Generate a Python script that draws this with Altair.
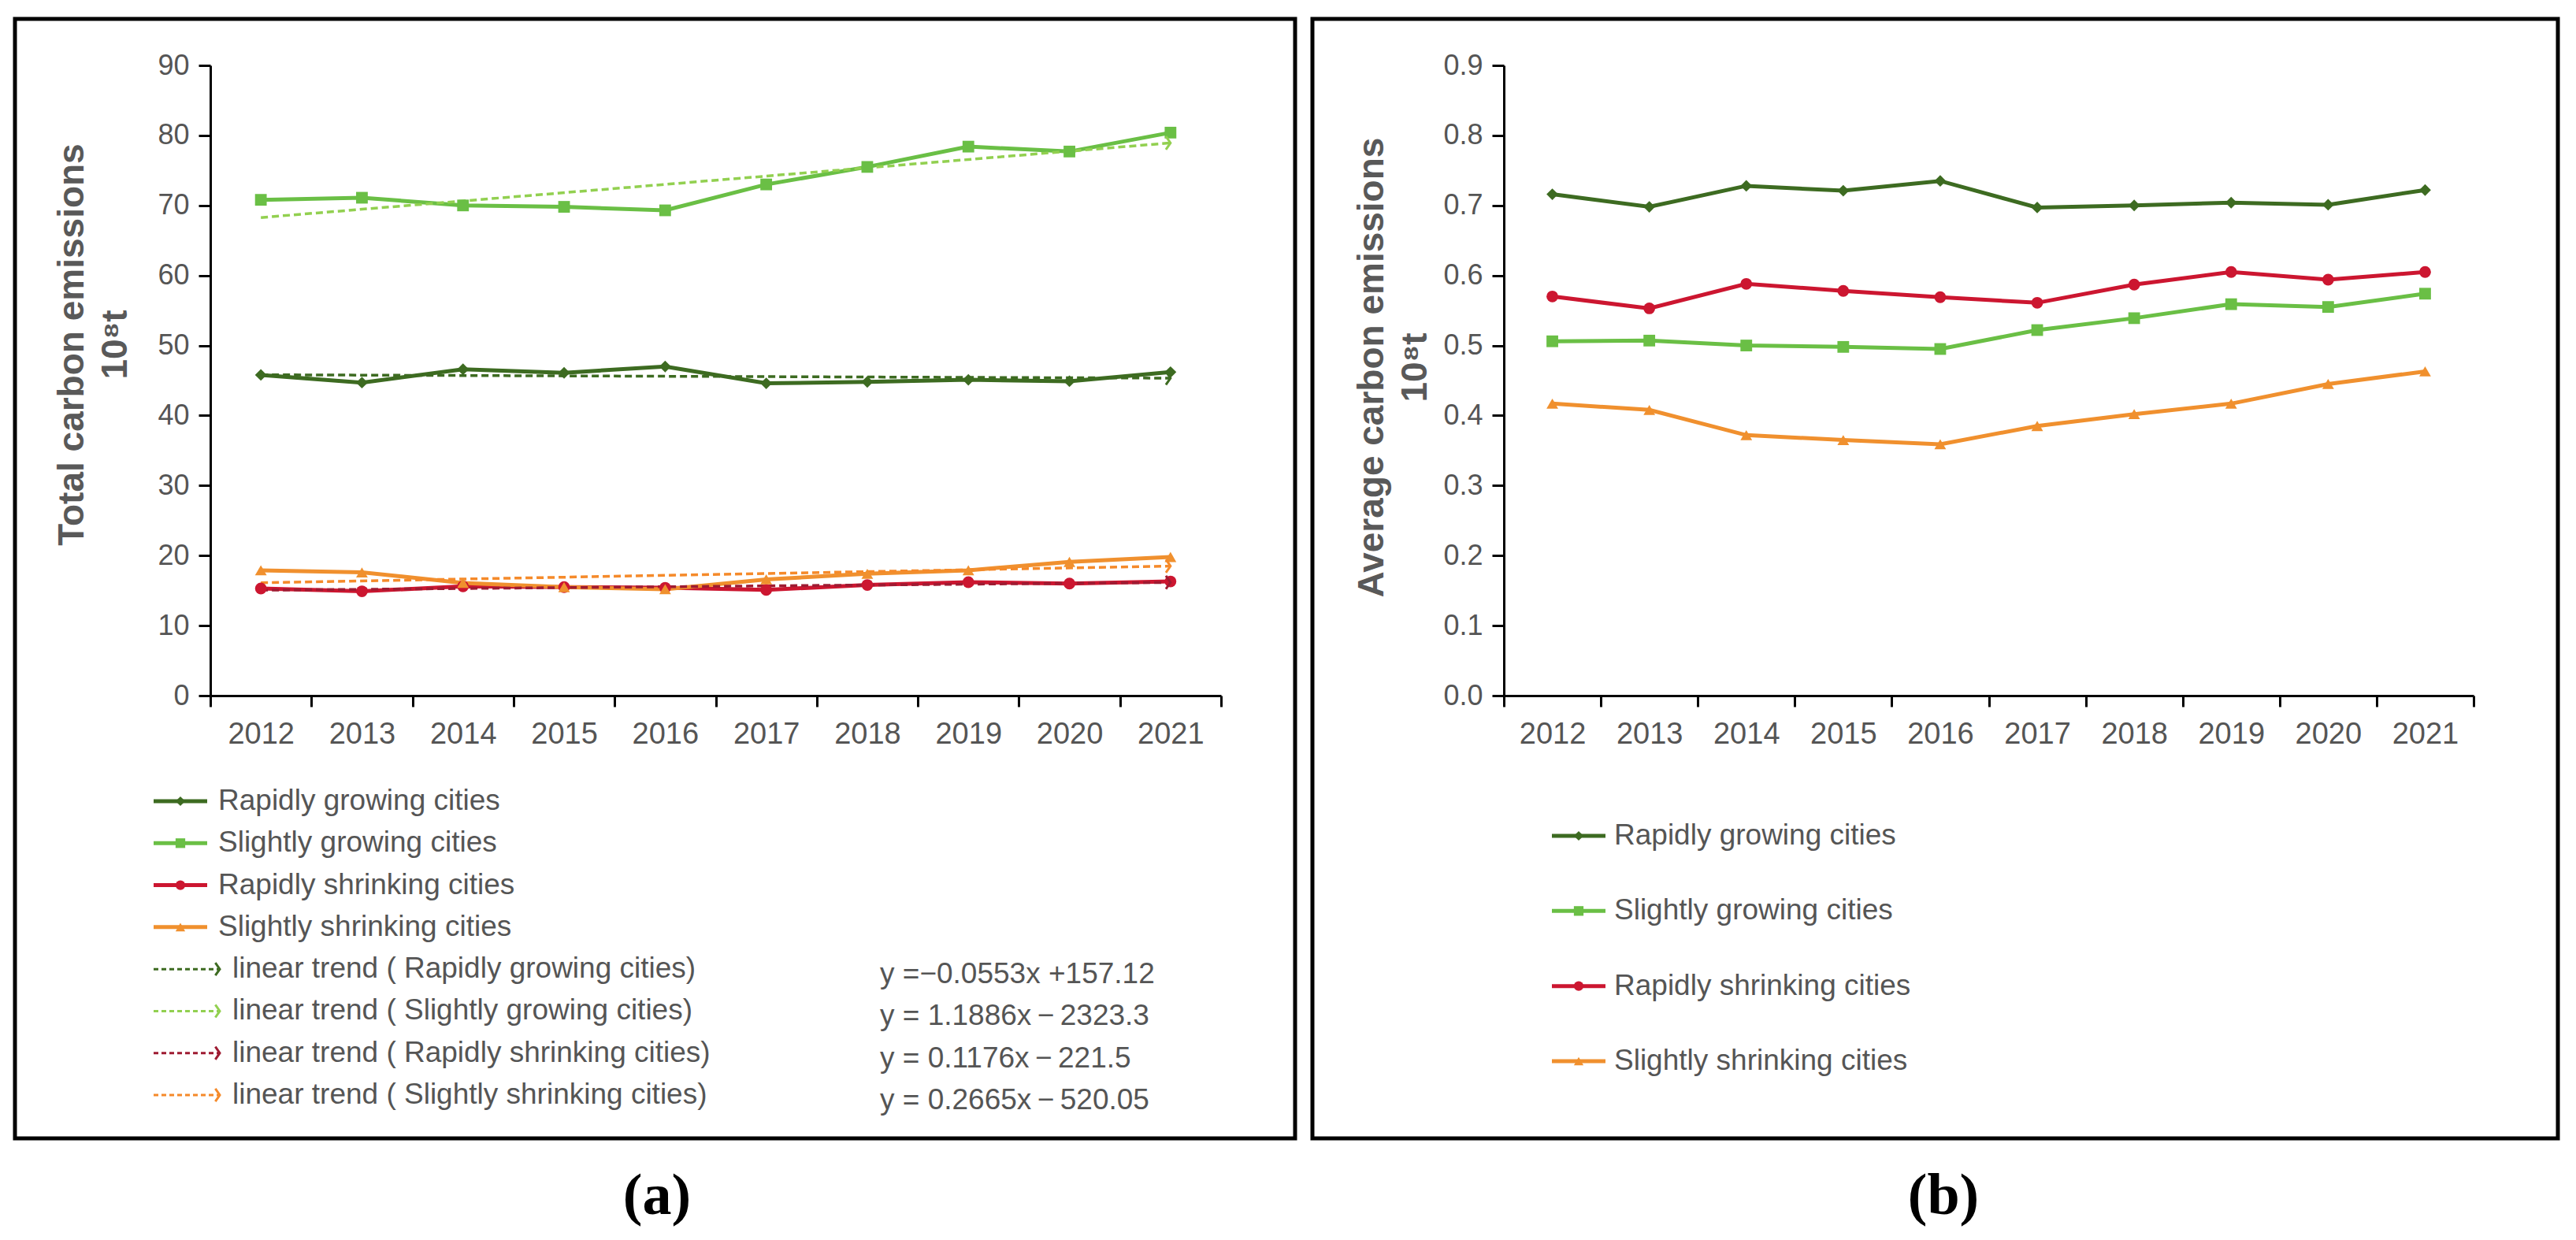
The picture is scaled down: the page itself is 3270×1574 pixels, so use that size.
import altair as alt
import pandas as pd

# ---------------- data ----------------
YEARS = [2012, 2013, 2014, 2015, 2016, 2017, 2018, 2019, 2020, 2021]
SERIES = ["Rapidly growing cities", "Slightly growing cities",
          "Rapidly shrinking cities", "Slightly shrinking cities"]

TOTAL_RAPID_GROW = [45.8, 44.7, 46.6, 46.1, 47.0, 44.6, 44.8, 45.1, 44.9, 46.2]
TOTAL_SLIGHT_GROW = [70.8, 71.1, 70.0, 69.8, 69.3, 73.0, 75.5, 78.4, 77.7, 80.4]
TOTAL_RAPID_SHRINK = [15.3, 14.9, 15.6, 15.5, 15.4, 15.1, 15.8, 16.2, 16.0, 16.3]
TOTAL_SLIGHT_SHRINK = [17.9, 17.6, 16.1, 15.5, 15.2, 16.6, 17.4, 17.9, 19.1, 19.8]

AVG_RAPID_GROW = [0.716, 0.698, 0.728, 0.721, 0.735, 0.697, 0.700, 0.704, 0.701, 0.722]
AVG_SLIGHT_GROW = [0.506, 0.507, 0.500, 0.498, 0.495, 0.522, 0.539, 0.559, 0.555, 0.574]
AVG_RAPID_SHRINK = [0.570, 0.553, 0.588, 0.578, 0.569, 0.561, 0.587, 0.605, 0.594, 0.605]
AVG_SLIGHT_SHRINK = [0.417, 0.408, 0.372, 0.365, 0.359, 0.385, 0.402, 0.417, 0.445, 0.463]

TREND_LABELS = ["linear trend ( Rapidly growing cities)",
                "linear trend ( Slightly growing cities)",
                "linear trend ( Rapidly shrinking cities)",
                "linear trend ( Slightly shrinking cities)"]
TREND_EQUATIONS = ["y =\u22120.0553x +157.12",
                   "y = 1.1886x\u2009\u2212\u20092323.3",
                   "y = 0.1176x\u2009\u2212\u2009221.5",
                   "y = 0.2665x\u2009\u2212\u2009520.05"]

TOTAL_TICKS = [0, 10, 20, 30, 40, 50, 60, 70, 80, 90]
AVG_TICKS = [0.0, 0.1, 0.2, 0.3, 0.4, 0.5, 0.6, 0.7, 0.8, 0.9]
PANEL_LABELS = ["(a)", "(b)"]

# ---------------- styles ----------------
COLORS = ["#3d6b21", "#6abf45", "#cc1630", "#f0902e"]
TREND_COLORS = ["#3d6b21", "#92d050", "#9e1b32", "#f58a2a"]
SHAPES = ["diamond", "square", "circle", "triangle-up"]
CHEVRON = "M-0.7,-1L0,0L-0.7,1"
FONT = "Liberation Sans"
GRAY = "#555555"


def long_df(cols):
    rows = []
    for name, vals in zip(SERIES, cols):
        for yr, v in zip(YEARS, vals):
            rows.append({"year": yr, "series": name, "value": v})
    return pd.DataFrame(rows)


total_df = long_df([TOTAL_RAPID_GROW, TOTAL_SLIGHT_GROW, TOTAL_RAPID_SHRINK, TOTAL_SLIGHT_SHRINK])
avg_df = long_df([AVG_RAPID_GROW, AVG_SLIGHT_GROW, AVG_RAPID_SHRINK, AVG_SLIGHT_SHRINK])

color_scale = alt.Scale(domain=SERIES, range=COLORS)
trend_scale = alt.Scale(domain=SERIES, range=TREND_COLORS)
shape_scale = alt.Scale(domain=SERIES, range=SHAPES)


def x_enc():
    return alt.X("year:O",
                 scale=alt.Scale(type="band", paddingInner=0, paddingOuter=0),
                 axis=alt.Axis(title=None, tickBand="extent", labelAngle=0,
                               labelFont=FONT, labelFontSize=38, labelColor=GRAY,
                               labelPadding=16, tickSize=14, tickWidth=3,
                               tickColor="black", domainColor="black",
                               domainWidth=3, grid=False))


def y_enc(domain, ticks, fmt, title, title_x, title_y):
    return alt.Y("value:Q",
                 scale=alt.Scale(domain=domain, nice=False, zero=True),
                 axis=alt.Axis(values=ticks, format=fmt, title=title,
                               titleFont=FONT, titleFontWeight="bold",
                               titleFontSize=46, titleColor="#595959",
                               titleAngle=270, titleAlign="center",
                               titleBaseline="alphabetic", titleX=title_x,
                               titleY=title_y, titleLineHeight=55,
                               labelFont=FONT, labelFontSize=36, labelColor=GRAY,
                               labelPadding=12, tickSize=15, tickWidth=3,
                               tickColor="black", domainColor="black",
                               domainWidth=3, grid=False))


def panel(df, domain, ticks, fmt, title, title_x, title_y, width, with_trend,
          leg_range, leg_geom, border, label_text, label_xy):
    X = x_enc()
    Y = y_enc(domain, ticks, fmt, title, title_x, title_y)
    col = alt.Color("series:N", scale=color_scale, legend=None)
    shp = alt.Shape("series:N", scale=shape_scale, legend=None)
    strk = alt.Stroke("series:N", scale=trend_scale, legend=None)

    base = alt.Chart(df)
    lines = base.mark_line(strokeWidth=5).encode(x=X, y=Y, color=col, detail="series:N")
    points = base.mark_point(filled=True, opacity=1, size=220).encode(x=X, y=Y, color=col, shape=shp)
    data_layers = [lines]
    if with_trend:
        reg = base.transform_regression("year", "value", groupby=["series"])
        trend = reg.mark_line(strokeDash=[9, 5], strokeWidth=3.5).encode(
            x=X, y=alt.Y("value:Q"), stroke=strk, detail="series:N")
        arrows = reg.transform_joinaggregate(maxyear="max(year)").transform_filter(
            "datum.year == datum.maxyear").mark_point(
            shape=CHEVRON, filled=False, size=280, strokeWidth=3, opacity=1).encode(
            x=X, y=alt.Y("value:Q"), stroke=strk)
        data_layers += [trend, points, arrows]
    else:
        data_layers += [points]
    data_layer = alt.layer(*data_layers)

    # legend
    rows = [{"label": s, "series": s, "kind": "series", "eq": ""} for s in SERIES]
    if with_trend:
        rows += [{"label": t, "series": s, "kind": "trend", "eq": e}
                 for t, s, e in zip(TREND_LABELS, SERIES, TREND_EQUATIONS)]
    leg_df = pd.DataFrame(rows)
    labels = list(leg_df["label"])
    LY = alt.Y("label:N", sort=labels,
               scale=alt.Scale(type="point", domain=labels, range=leg_range, padding=0),
               axis=None)
    g = leg_geom
    lbase = alt.Chart(leg_df)
    sbase = lbase.transform_filter("datum.kind == 'series'")
    leg_layers = [
        sbase.mark_rule(strokeWidth=5).encode(x=alt.value(g["x0"]), x2=alt.value(g["x1"]), y=LY, color=col),
        sbase.mark_point(filled=True, opacity=1, size=150).encode(x=alt.value(g["xm"]), y=LY, color=col, shape=shp),
        sbase.mark_text(align="left", baseline="middle", font=FONT, fontSize=37, color=GRAY).encode(
            x=alt.value(g["xt"]), y=LY, text="label:N"),
    ]
    if with_trend:
        tbase = lbase.transform_filter("datum.kind == 'trend'")
        leg_layers += [
            tbase.mark_rule(strokeDash=[6, 4], strokeWidth=3).encode(
                x=alt.value(g["x0"]), x2=alt.value(g["tx1"]), y=LY, stroke=strk),
            tbase.mark_point(shape=CHEVRON, filled=False, size=260, strokeWidth=3, opacity=1).encode(
                x=alt.value(g["tx1"] + 2), y=LY, stroke=strk),
            tbase.mark_text(align="left", baseline="middle", font=FONT, fontSize=37, color=GRAY).encode(
                x=alt.value(g["tt"]), y=LY, text="label:N"),
            tbase.mark_text(align="left", baseline="middle", font=FONT, fontSize=37, color=GRAY, dy=7).encode(
                x=alt.value(g["xe"]), y=LY, text="eq:N"),
        ]
    legend_layer = alt.layer(*leg_layers)

    frame = alt.Chart(pd.DataFrame({"t": [label_text]}))
    border_layer = frame.mark_rect(filled=False, stroke="black", strokeWidth=5).encode(
        x=alt.value(border[0]), x2=alt.value(border[1]),
        y=alt.value(border[2]), y2=alt.value(border[3]))
    label_layer = frame.mark_text(font="Liberation Serif", fontWeight="bold", fontSize=74,
                                  color="black", align="center", baseline="middle").encode(
        x=alt.value(label_xy[0]), y=alt.value(label_xy[1]), text="t:N")

    return alt.layer(border_layer, data_layer, legend_layer, label_layer).resolve_scale(
        y="independent").properties(width=width, height=800)


left = panel(total_df, [0, 90], TOTAL_TICKS, "d",
             ["Total carbon emissions", "10\u2078t"], -162, 354, 1283, True,
             [934, 1307],
             {"x0": -72, "x1": -4, "xm": -38, "xt": 10, "tx1": 10, "tt": 28, "xe": 850},
             (-248, 1377, -59, 1362), PANEL_LABELS[0], (567, 1436))

right = panel(avg_df, [0, 0.9], AVG_TICKS, ".1f",
              ["Average carbon emissions", "10\u2078t"], -154, 383, 1231, False,
              [978, 1264],
              {"x0": 61, "x1": 129, "xm": 95, "xt": 140, "tx1": 0, "tt": 0, "xe": 0},
              (-243, 1338, -59, 1362), PANEL_LABELS[1], (558, 1436))

chart = alt.hconcat(left, right, spacing=16).properties(
    padding={"left": 8, "top": 13, "right": 5, "bottom": 5}
).configure_view(stroke=None)

chart.save("out.html", embed_options={"renderer": "svg", "actions": False})
